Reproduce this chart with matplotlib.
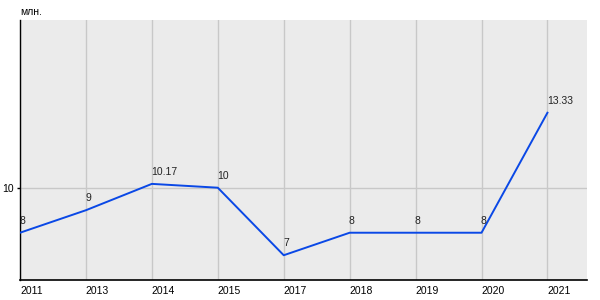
import matplotlib
matplotlib.use("Agg")
import matplotlib.pyplot as plt

# data
years = ["2011", "2013", "2014", "2015", "2017", "2018", "2019", "2020", "2021"]
values = [8, 9, 10.17, 10, 7, 8, 8, 8, 13.33]
value_labels = ["8", "9", "10.17", "10", "7", "8", "8", "8", "13.33"]

plt.rcParams['font.family'] = ['Liberation Sans', 'DejaVu Sans']

fig = plt.figure(figsize=(6, 3), dpi=100)
ax = fig.add_axes([20 / 600, 20 / 300, 567 / 600, 260 / 300])
ax.set_facecolor("#ebebeb")

x = list(range(len(years)))
ax.plot(x, values, color="#0a48e6", linewidth=1.4, zorder=3)

for xi, v, lab in zip(x, values, value_labels):
    ax.annotate(lab, (xi, v), xytext=(-0.5, 5), textcoords="offset points",
                ha="left", va="bottom", fontsize=7.5, color="#222222", zorder=4)

ax.set_xlim(0, 8.6)
ax.set_ylim(5.9, 17.45)
ax.set_xticks(x)
ax.set_xticklabels(years, ha="left", fontsize=7.5)
for t in ax.get_xticklabels():
    t.set_x(t.get_position()[0])
ax.set_yticks([10])
ax.set_yticklabels(["10"], fontsize=7.5)
ax.grid(True, color="#c8c8c8", linewidth=1)
ax.set_axisbelow(True)
ax.tick_params(axis="x", length=0, pad=4)
ax.tick_params(axis="y", length=2.5, width=1, pad=2)

for s in ["top", "right"]:
    ax.spines[s].set_visible(False)
ax.spines["left"].set_linewidth(1)
ax.spines["bottom"].set_linewidth(1.2)

fig.text(20 / 600, 1 - 12 / 300, "млн.", fontsize=7.5, ha="left", va="center")

fig.savefig("out.png", dpi=100, facecolor="white")
